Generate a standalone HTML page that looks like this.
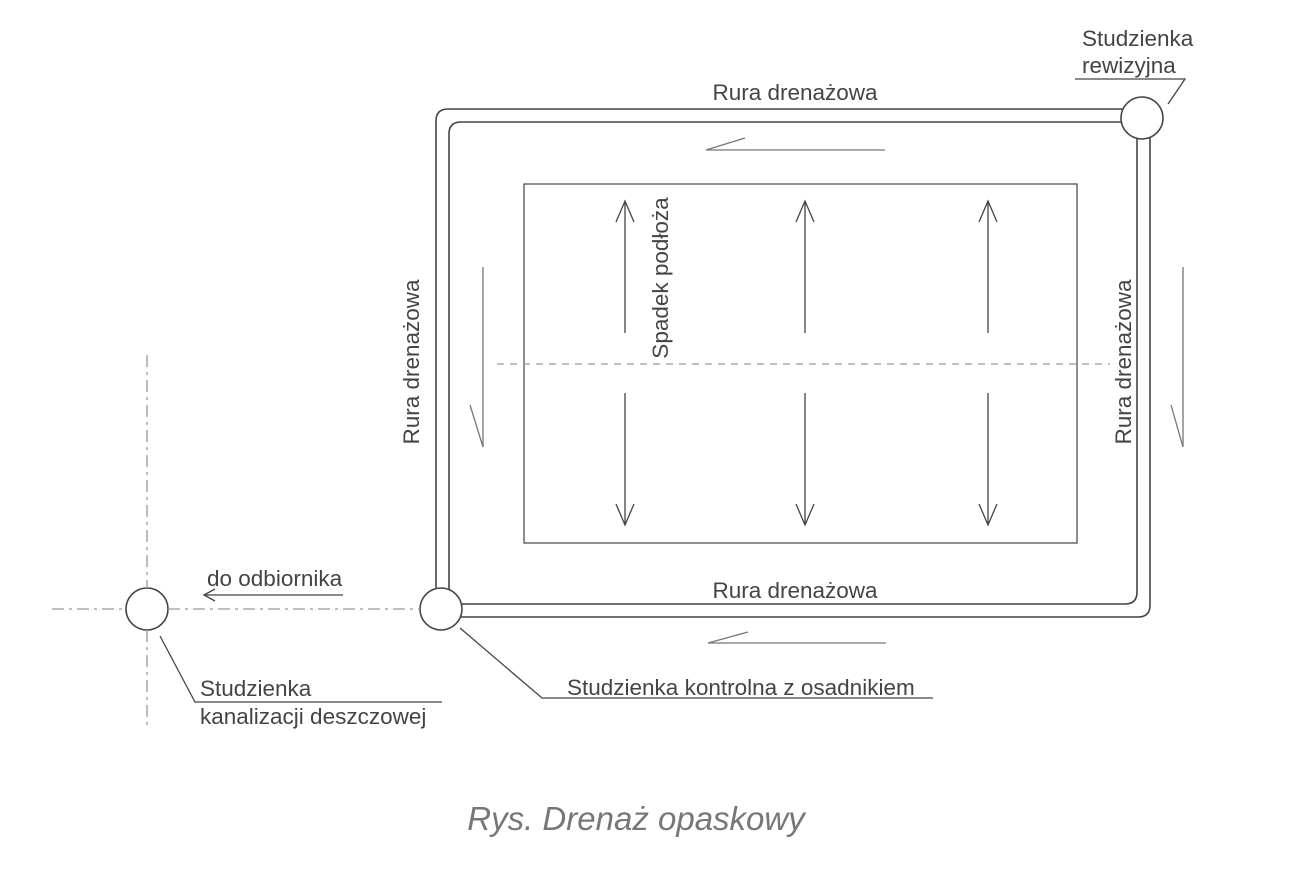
<!DOCTYPE html>
<html><head><meta charset="utf-8"><style>
html,body{margin:0;padding:0;background:#fff;}
svg{display:block;}
text{font-family:"Liberation Sans",sans-serif;fill:#444;font-size:22.5px;}
</style></head><body>
<svg width="1294" height="882" viewBox="0 0 1294 882" xmlns="http://www.w3.org/2000/svg">
<g fill="none" stroke="#444" stroke-width="1.6">
<path d="M1125 109 H448 Q436 109 436 121 V590"/>
<path d="M1125 122 H461 Q449 122 449 134 V590"/>
<path d="M1150 138 V605 Q1150 617 1138 617 H460"/>
<path d="M1137 138 V592 Q1137 604 1125 604 H460"/>
<circle cx="1142" cy="118" r="21" fill="#fff"/>
<circle cx="441" cy="609" r="21" fill="#fff"/>
<circle cx="147" cy="609" r="21" fill="#fff"/>
<rect x="524" y="184" width="553" height="359" stroke-width="1.2"/>
</g>
<g stroke="#999" stroke-width="1.3" fill="none">
<line x1="497" y1="364" x2="1110" y2="364" stroke-dasharray="7,6"/>
<line x1="52" y1="609" x2="126" y2="609" stroke-dasharray="12,5,3,5"/>
<line x1="168" y1="609" x2="420" y2="609" stroke-dasharray="12,5,3,5"/>
<line x1="147" y1="355" x2="147" y2="588" stroke-dasharray="12,5,3,5"/>
<line x1="147" y1="630" x2="147" y2="725" stroke-dasharray="12,5,3,5"/>
</g>
<g stroke="#444" stroke-width="1.3" fill="none">
<path d="M625 333 V201 M616 222 L625 201 L634 222"/>
<path d="M805 333 V201 M796 222 L805 201 L814 222"/>
<path d="M988 333 V201 M979 222 L988 201 L997 222"/>
<path d="M625 393 V525 M616 504 L625 525 L634 504"/>
<path d="M805 393 V525 M796 504 L805 525 L814 504"/>
<path d="M988 393 V525 M979 504 L988 525 L997 504"/>
<path d="M885 150 H706 L745 138" stroke="#777"/>
<path d="M886 643 H708 L748 632" stroke="#777"/>
<path d="M483 267 V447 L470 405" stroke="#777"/>
<path d="M1183 267 V447 L1171 405" stroke="#777"/>
<path d="M343 595 H204 M215 589 L204 595 L215 601"/>
<path d="M1075 79 H1185 L1168 104"/>
<path d="M160 636 L195 702 H442"/>
<path d="M460 628 L542 698 H933"/>
</g>
<text x="795" y="100" text-anchor="middle">Rura drenażowa</text>
<text x="795" y="598" text-anchor="middle">Rura drenażowa</text>
<text transform="translate(419,362) rotate(-90)" text-anchor="middle">Rura drenażowa</text>
<text transform="translate(1131,362) rotate(-90)" text-anchor="middle">Rura drenażowa</text>
<text transform="translate(668,278) rotate(-90)" text-anchor="middle">Spadek podłoża</text>
<text x="1082" y="46">Studzienka</text>
<text x="1082" y="73">rewizyjna</text>
<text x="207" y="586">do odbiornika</text>
<text x="200" y="696">Studzienka</text>
<text x="200" y="724">kanalizacji deszczowej</text>
<text x="567" y="695">Studzienka kontrolna z osadnikiem</text>
<text x="636" y="830" text-anchor="middle" font-style="italic" style="font-size:33px;fill:#777">Rys. Drenaż opaskowy</text>
</svg>
</body></html>
